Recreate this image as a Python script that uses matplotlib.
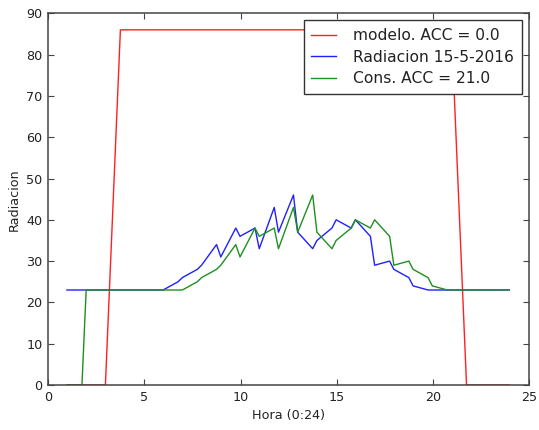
import matplotlib
matplotlib.use("Agg")
import matplotlib.pyplot as plt

# sample times (hours)
hora = [0.97,
        1.75, 1.97, 2.75, 2.97, 3.75, 3.97, 4.75, 4.97, 5.75, 5.97,
        6.75, 6.97, 7.75, 7.97, 8.75, 8.97, 9.75, 9.97, 10.75, 10.97,
        11.75, 11.97, 12.75, 12.97, 13.75, 13.97, 14.75, 14.97, 15.75, 15.97,
        16.75, 16.97, 17.75, 17.97, 18.75, 18.97, 19.75, 19.97, 20.75, 20.97,
        21.75, 21.97, 22.75, 22.97, 23.75, 23.97]

modelo = [0,
          0, 0, 0, 0, 86, 86, 86, 86, 86, 86,
          86, 86, 86, 86, 86, 86, 86, 86, 86, 86,
          86, 86, 86, 86, 86, 86, 86, 86, 86, 86,
          86, 86, 86, 86, 86, 86, 86, 86, 86, 86,
          0, 0, 0, 0, 0, 0]

radiacion = [23,
             23, 23, 23, 23, 23, 23, 23, 23, 23, 23,
             25, 26, 28, 29, 34, 31, 38, 36, 38, 33,
             43, 37, 46, 37, 33, 35, 38, 40, 38, 40,
             36, 29, 30, 28, 26, 24, 23, 23, 23, 23,
             23, 23, 23, 23, 23, 23]

consigna = [0,
            0, 23, 23, 23, 23, 23, 23, 23, 23, 23,
            23, 23, 25, 26, 28, 29, 34, 31, 38, 36,
            38, 33, 43, 37, 46, 37, 33, 35, 38, 40,
            38, 40, 36, 29, 30, 28, 26, 24, 23, 23,
            23, 23, 23, 23, 23, 23]

fig = plt.figure(figsize=(5.39, 4.30), dpi=100)
ax = fig.add_axes([0.0896, 0.1047, 0.9815 - 0.0896, 0.969 - 0.1047])

ax.plot(hora, modelo, color='#ff2020', lw=1, label='modelo. ACC = 0.0')
ax.plot(hora, radiacion, color='#2020ff', lw=1, label='Radiacion 15-5-2016')
ax.plot(hora, consigna, color='#1f8f1f', lw=1, label='Cons. ACC = 21.0')

ax.set_xlim(0, 25)
ax.set_ylim(0, 90)
ax.set_xticks([0, 5, 10, 15, 20, 25])
ax.set_yticks(range(0, 91, 10))
ax.tick_params(direction='in', top=True, right=True, length=4, width=0.8,
               color='#444444', labelsize=9.2, labelcolor='#222222', pad=4)
for s in ax.spines.values():
    s.set_linewidth(1.1)
    s.set_color('#444444')

ax.set_xlabel('Hora (0:24)', fontsize=9.2, color='#222222')
ax.set_ylabel('Radiacion', fontsize=9.2, color='#222222')

leg = ax.legend(loc='upper right', fontsize=11.2, fancybox=False,
                edgecolor='#333333', framealpha=1, handlelength=1.6,
                handletextpad=1.1, borderpad=0.5, labelspacing=0.42,
                borderaxespad=0.45)
leg.get_frame().set_linewidth(1)
for t in leg.get_texts():
    t.set_color('#222222')

fig.savefig('out.png', dpi=100)
